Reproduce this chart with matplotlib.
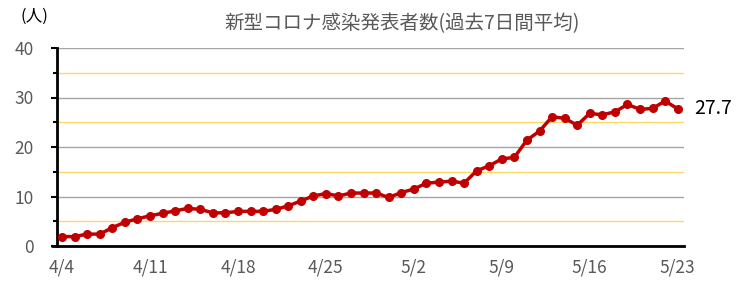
import matplotlib
matplotlib.use('Agg')
import matplotlib.pyplot as plt
import numpy as np

plt.rcParams['font.family'] = ['Noto Sans CJK JP', 'DejaVu Sans']

# 4/4 から 5/23 までの過去7日間平均
values = [1.9, 1.9, 2.4, 2.4, 3.7, 4.8, 5.5, 6.1, 6.6, 7.1,
          7.6, 7.4, 6.7, 6.7, 7.0, 7.0, 7.0, 7.4, 8.1, 9.1,
          10.1, 10.6, 10.1, 10.7, 10.7, 10.7, 9.8, 10.8, 11.5, 12.7,
          12.9, 13.1, 12.7, 15.2, 16.2, 17.6, 17.9, 21.4, 23.2, 26.1,
          25.8, 24.4, 26.8, 26.5, 27.1, 28.6, 27.6, 27.8, 29.3, 27.7]
tick_labels = ['4/4', '4/11', '4/18', '4/25', '5/2', '5/9', '5/16', '5/23']
title = '新型コロナ感染発表者数(過去7日間平均)'

days = np.arange(len(values))

fig = plt.figure(figsize=(7.39, 2.84), dpi=100)
ax = fig.add_axes([57/739, 38/284, 627/739, 198/284])

for y in [5, 15, 25, 35]:
    ax.axhline(y, color='#ffd966', lw=1, zorder=1)
for y in [10, 20, 30, 40]:
    ax.axhline(y, color='#a6a6a6', lw=1, zorder=1)

ax.plot(days, values, color='#c00000', lw=2.5, marker='o', markersize=5.5, zorder=3)
ax.text(days[-1] + 1.35, values[-1], f'{values[-1]:.1f}', fontsize=14,
        va='center', ha='left', color='black')

ax.set_xlim(-0.4, 49.5)
ax.set_ylim(0, 40)
ax.set_xticks(days[::7])
ax.set_xticklabels(tick_labels, color='#595959', fontsize=12.5)
ax.set_yticks([0, 10, 20, 30, 40])
ax.set_yticks([5, 15, 25, 35], minor=True)
ax.tick_params(axis='y', labelcolor='#595959', labelsize=12.5, length=4, width=1.5,
               direction='out', pad=13)
ax.tick_params(axis='y', which='minor', length=3, width=1.5, direction='out')
ax.tick_params(axis='x', length=0, pad=9)

for s in ['top', 'right']:
    ax.spines[s].set_visible(False)
ax.spines['left'].set_linewidth(2)
ax.spines['bottom'].set_linewidth(2)
# 底辺の線が左の軸より少し左まで伸びている
ax.plot([-6/627, 0], [0, 0], transform=ax.transAxes, color='black', lw=2,
        clip_on=False, solid_capstyle='butt')

fig.text(20/739, 1 - 16/284, '(人)', fontsize=12, color='black', va='center')
fig.text(402/739, 1 - 24/284, title, fontsize=14, color='#595959', ha='center', va='center')

fig.savefig('out.png', dpi=100)
